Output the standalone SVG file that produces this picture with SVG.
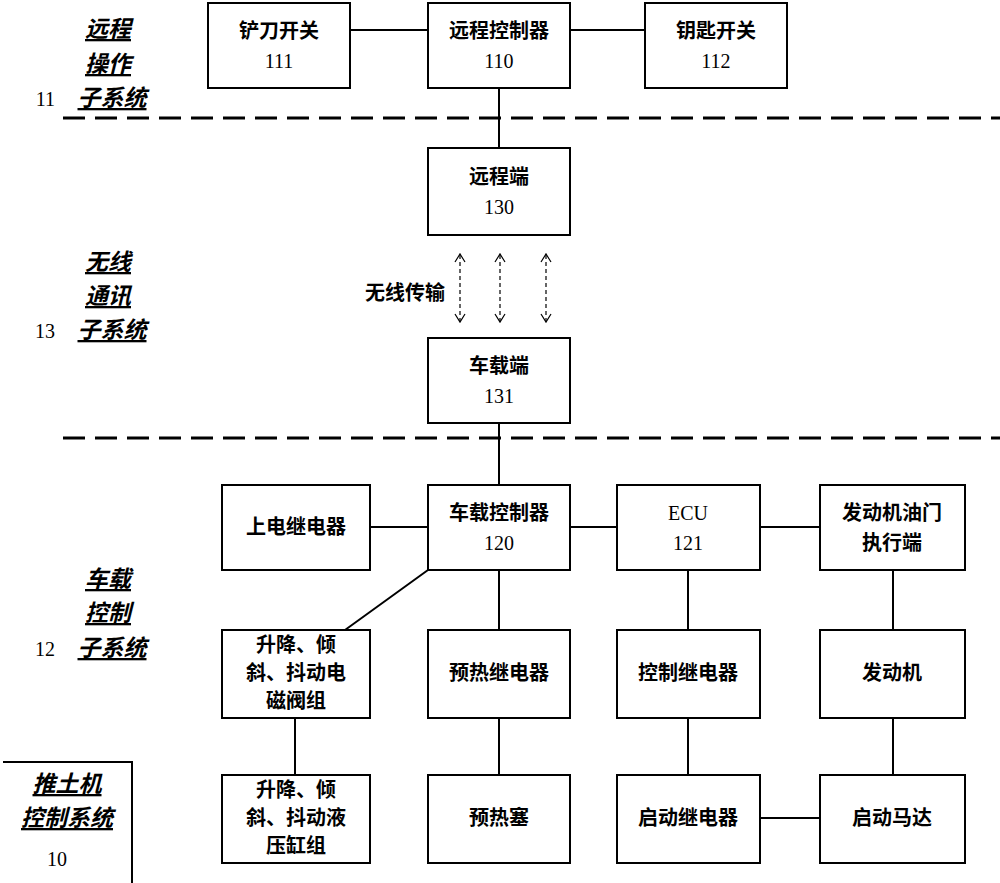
<svg xmlns="http://www.w3.org/2000/svg" width="1000" height="883" viewBox="0 0 1000 883">
<defs>
<style>
.b{fill:#fff;stroke:#000;stroke-width:2}
.t{font-family:"Liberation Serif","Noto Sans CJK SC",serif;font-size:20px;font-weight:bold;text-anchor:middle}
.t tspan,.num{font-weight:normal}
.l{font-family:"Liberation Serif","Noto Sans CJK SC",serif;font-size:23px;font-weight:bold;font-style:italic;text-decoration:underline;text-anchor:middle}
.n{font-family:"Liberation Serif",serif;font-size:20px;text-anchor:end}
.c{stroke:#000;stroke-width:2;fill:none}
.d{stroke:#000;stroke-width:3;stroke-dasharray:22 10;fill:none}
.a{stroke:#000;stroke-width:1.2;stroke-dasharray:4 3;fill:none}
.h{stroke:#000;stroke-width:1.2;fill:none}
</style>
</defs>
<rect width="1000" height="883" fill="#fff"/>
<g id="connectors">
<path class="d" d="M63 118H1000M63 438H1000"/>
<path class="c" d="M350 30H428M570 30H645M499 88V148M499 423V485M370 527H428M570 527H617M760 527H820M428 570L345 630M499 570V630M688 570V630M893 570V630M295 718V775M499 718V775M688 718V775M893 718V775M760 818H820"/>
<path class="a" d="M460 255V321M500 255V321M546 255V321"/>
<path class="h" d="M455 262L460 254L465 262M455 314L460 322L465 314M495 262L500 254L505 262M495 314L500 322L505 314M541 262L546 254L551 262M541 314L546 322L551 314"/>
<path class="c" d="M3 762H132V883" stroke-width="3"/>
</g>
<g id="n111"><rect class="b" x="208" y="3" width="142" height="85"/><text class="t" x="279" y="38">铲刀开关</text><text class="t num" x="279" y="68">111</text></g>
<g id="n110"><rect class="b" x="428" y="3" width="142" height="85"/><text class="t" x="499" y="38">远程控制器</text><text class="t num" x="499" y="68">110</text></g>
<g id="n112"><rect class="b" x="645" y="3" width="142" height="85"/><text class="t" x="716" y="38">钥匙开关</text><text class="t num" x="716" y="68">112</text></g>
<g id="n130"><rect class="b" x="428" y="148" width="142" height="87"/><text class="t" x="499" y="184">远程端</text><text class="t num" x="499" y="214">130</text></g>
<g id="n131"><rect class="b" x="428" y="338" width="142" height="85"/><text class="t" x="499" y="373">车载端</text><text class="t num" x="499" y="403">131</text></g>
<text class="t" x="405" y="300" font-size="18">无线传输</text>
<g id="npw"><rect class="b" x="222" y="485" width="148" height="85"/><text class="t" x="296" y="534">上电继电器</text></g>
<g id="n120"><rect class="b" x="428" y="485" width="142" height="85"/><text class="t" x="499" y="520">车载控制器</text><text class="t num" x="499" y="550">120</text></g>
<g id="n121"><rect class="b" x="617" y="485" width="143" height="85"/><text class="t num" x="688" y="520">ECU</text><text class="t num" x="688" y="550">121</text></g>
<g id="nthr"><rect class="b" x="820" y="485" width="145" height="85"/><text class="t" x="892" y="520">发动机油门</text><text class="t" x="892" y="550">执行端</text></g>
<g id="nval"><rect class="b" x="222" y="630" width="148" height="88"/><text class="t" x="296" y="652">升降、倾</text><text class="t" x="296" y="680">斜、抖动电</text><text class="t" x="296" y="708">磁阀组</text></g>
<g id="npre"><rect class="b" x="428" y="630" width="142" height="88"/><text class="t" x="499" y="680">预热继电器</text></g>
<g id="nctl"><rect class="b" x="617" y="630" width="143" height="88"/><text class="t" x="688" y="680">控制继电器</text></g>
<g id="neng"><rect class="b" x="820" y="630" width="145" height="88"/><text class="t" x="892" y="680">发动机</text></g>
<g id="ncyl"><rect class="b" x="222" y="775" width="148" height="88"/><text class="t" x="296" y="797">升降、倾</text><text class="t" x="296" y="825">斜、抖动液</text><text class="t" x="296" y="853">压缸组</text></g>
<g id="nplug"><rect class="b" x="428" y="775" width="142" height="88"/><text class="t" x="499" y="825">预热塞</text></g>
<g id="nstr"><rect class="b" x="617" y="775" width="143" height="88"/><text class="t" x="688" y="825">启动继电器</text></g>
<g id="nmot"><rect class="b" x="820" y="775" width="145" height="88"/><text class="t" x="892" y="825">启动马达</text></g>
<g id="labels">
<text class="l" x="108" y="37">远程</text><text class="l" x="108" y="72">操作</text><text class="l" x="112" y="106">子系统</text><text class="n" x="55" y="106">11</text>
<text class="l" x="108" y="270">无线</text><text class="l" x="108" y="304">通讯</text><text class="l" x="112" y="338">子系统</text><text class="n" x="55" y="338">13</text>
<text class="l" x="108" y="587">车载</text><text class="l" x="108" y="621">控制</text><text class="l" x="112" y="656">子系统</text><text class="n" x="55" y="656">12</text>
<text class="l" x="67" y="792">推土机</text><text class="l" x="67" y="826">控制系统</text><text class="n" x="67" y="866">10</text>
</g>
</svg>
